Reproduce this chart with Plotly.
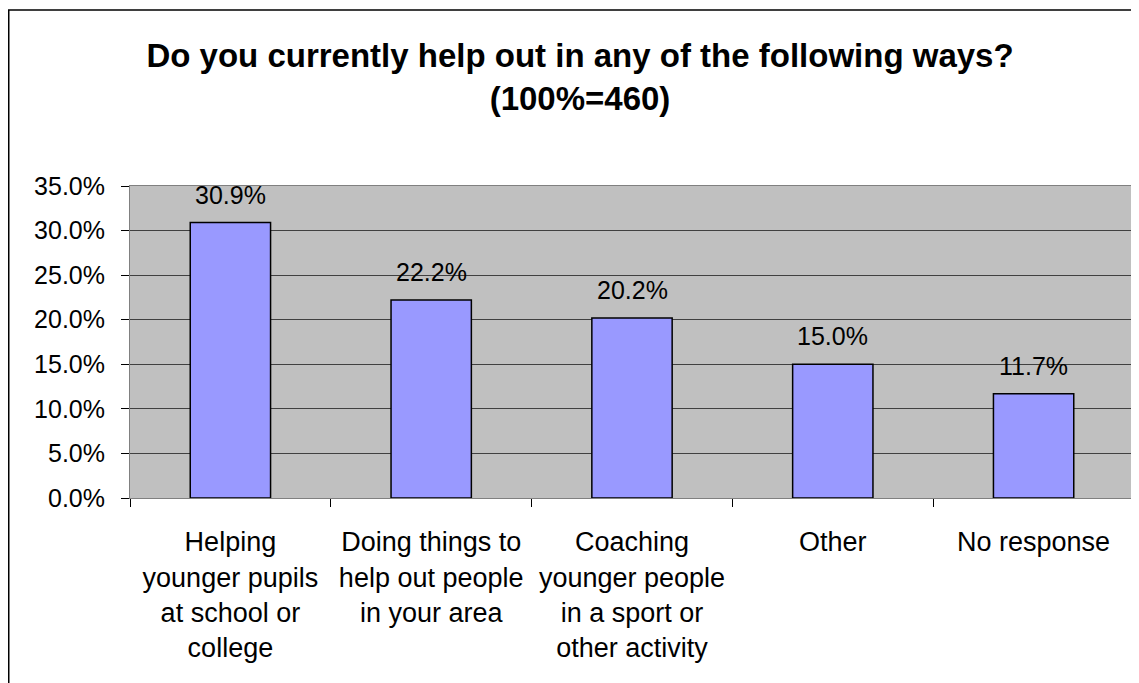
import plotly.graph_objects as go

# datos
categorias = ["Helping<br>younger pupils<br>at school or<br>college",
              "Doing things to<br>help out people<br>in your area",
              "Coaching<br>younger people<br>in a sport or<br>other activity",
              "Other",
              "No response"]
porcentajes = [0.309, 0.222, 0.202, 0.150, 0.117]
titulo = "<b>Do you currently help out in any of the following ways?<br>(100%=460)</b>"

fuente = "Arial, Liberation Sans, sans-serif"
# la pagina tiene un margen de 8px, se compensa en el tamaño
off = 8
W, H = 1139 - off, 683 - off
ml, mr, mt, mb = 130 - off, 5, 186 - off, 185
ancho = W - ml - mr
alto = H - mt - mb

fig = go.Figure()
fig.add_trace(go.Bar(
    x=categorias, y=porcentajes,
    marker=dict(color="#9999FF", line=dict(color="#000000", width=1.5)),
    width=0.4,
))

# etiquetas de valor encima de cada barra
for c, v in zip(categorias, porcentajes):
    fig.add_annotation(x=c, y=v, text=f"{v:.1%}", showarrow=False,
                       yanchor="bottom", yshift=12,
                       font=dict(family=fuente, size=25, color="#000000"))

# marco exterior del grafico (solo se ven el lado izquierdo y el superior)
fig.add_shape(type="rect", xref="paper", yref="paper",
              x0=(0.75 - ml) / ancho, x1=(W + 20 - ml) / ancho,
              y0=(H - mb - (H + 20)) / alto, y1=(H - mb - 2) / alto,
              line=dict(color="#000000", width=1.5), fillcolor="rgba(0,0,0,0)",
              layer="above")

fig.update_layout(
    width=W, height=H,
    margin=dict(l=ml, r=mr, t=mt, b=mb),
    paper_bgcolor="#FFFFFF",
    plot_bgcolor="#C0C0C0",
    showlegend=False,
    font=dict(family=fuente, size=25, color="#000000"),
    title=dict(text=titulo, x=(580 - off) / W, xanchor="center",
               y=1 - (67 - off) / H, yanchor="top",
               font=dict(family=fuente, size=33, color="#000000")),
)
fig.update_xaxes(
    tickson="boundaries", ticks="outside", ticklen=8, tickcolor="#000000",
    showline=True, linecolor="#808080", mirror=True,
    showgrid=False, ticklabelstandoff=20,
    tickfont=dict(family=fuente, size=27),
)
fig.update_yaxes(
    range=[0, 0.35], dtick=0.05, tickformat=".1%",
    ticks="outside", ticklen=8, tickcolor="#000000",
    showline=True, linecolor="#808080", mirror=True,
    showgrid=True, gridcolor="#404040", gridwidth=1,
    zeroline=False, ticklabelstandoff=11,
    tickfont=dict(family=fuente, size=25),
)

fig.write_html("out.html")
